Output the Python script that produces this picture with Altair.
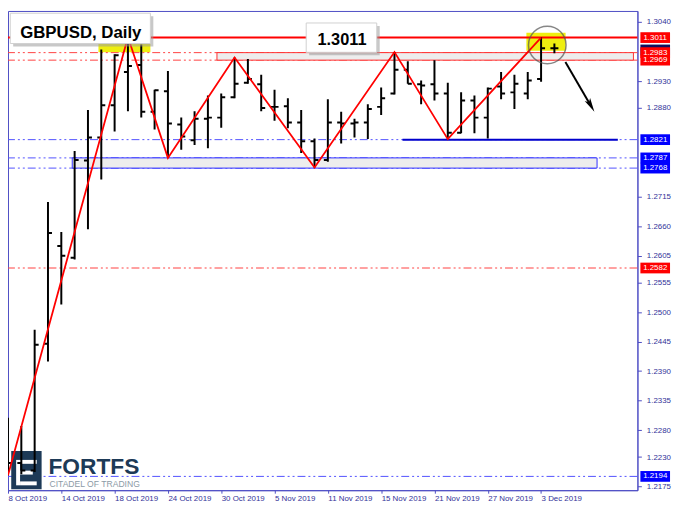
import altair as alt
import pandas as pd

# ---------------- data ----------------
dates = ["2019-10-08", "2019-10-09", "2019-10-10", "2019-10-11", "2019-10-14", "2019-10-15",
         "2019-10-16", "2019-10-17", "2019-10-18", "2019-10-21", "2019-10-22", "2019-10-23",
         "2019-10-24", "2019-10-25", "2019-10-28", "2019-10-29", "2019-10-30", "2019-10-31",
         "2019-11-01", "2019-11-04", "2019-11-05", "2019-11-06", "2019-11-07", "2019-11-08",
         "2019-11-11", "2019-11-12", "2019-11-13", "2019-11-14", "2019-11-15", "2019-11-18",
         "2019-11-19", "2019-11-20", "2019-11-21", "2019-11-22", "2019-11-25", "2019-11-26",
         "2019-11-27", "2019-11-28", "2019-11-29", "2019-12-02", "2019-12-03", "2019-12-04"]
opens = [1.2292, 1.2219, 1.2205, 1.2441, 1.2623, 1.2601, 1.2782, 1.2825, 1.2885, 1.2947,
         1.2960, 1.2873, 1.2911, 1.2849, 1.2820, 1.2860, 1.2862, 1.2900, 1.2927, 1.2924,
         1.2882, 1.2883, 1.2853, 1.2818, 1.2783, 1.2853, 1.2851, 1.2853, 1.2882, 1.2907,
         1.2951, 1.2924, 1.2924, 1.2907, 1.2834, 1.2894, 1.2862, 1.2920, 1.2909, 1.2907,
         1.2934, 1.2991]
highs = [1.2303, 1.2288, 1.2467, 1.2705, 1.2649, 1.2800, 1.2876, 1.2989, 1.2980, 1.3012,
         1.2998, 1.2914, 1.2949, 1.2862, 1.2874, 1.2903, 1.2907, 1.2974, 1.2971, 1.2942,
         1.2914, 1.2898, 1.2876, 1.2823, 1.2896, 1.2873, 1.2860, 1.2887, 1.2918, 1.2984,
         1.2967, 1.2931, 1.2969, 1.2927, 1.2909, 1.2903, 1.2918, 1.2947, 1.2942, 1.2947,
         1.3011, 1.3000]
lows = [1.2196, 1.2198, 1.2202, 1.2408, 1.2514, 1.2598, 1.2654, 1.2747, 1.2836, 1.2874,
        1.2862, 1.2840, 1.2787, 1.2802, 1.2811, 1.2805, 1.2843, 1.2898, 1.2925, 1.2874,
        1.2856, 1.2842, 1.2796, 1.2769, 1.2780, 1.2814, 1.2825, 1.2822, 1.2867, 1.2905,
        1.2925, 1.2887, 1.2894, 1.2822, 1.2833, 1.2833, 1.2823, 1.2896, 1.2878, 1.2896,
        1.2929, 1.2982]
closes = [1.2219, 1.2205, 1.2439, 1.2647, 1.2605, 1.2783, 1.2825, 1.2885, 1.2978, 1.2958,
          1.2873, 1.2913, 1.2851, 1.2827, 1.2860, 1.2862, 1.2900, 1.2925, 1.2934, 1.2880,
          1.2882, 1.2853, 1.2818, 1.2783, 1.2853, 1.2851, 1.2853, 1.2878, 1.2898, 1.2951,
          1.2925, 1.2922, 1.2907, 1.2834, 1.2894, 1.2862, 1.2916, 1.2907, 1.2925, 1.2931,
          1.2991, 1.2991]

zz_bars = [0, 9, 12, 17, 23, 29, 33, 40]
zz_prices = [1.2196, 1.3012, 1.2787, 1.2974, 1.2769, 1.2984, 1.2822, 1.3011]

y_ticks = [1.3040, 1.2930, 1.2880, 1.2715, 1.2660, 1.2605, 1.2555, 1.2500, 1.2445,
           1.2390, 1.2335, 1.2280, 1.2230, 1.2175]

red_solid_levels = [1.3011]
red_dash_levels = [1.2983, 1.2969, 1.2582]
blue_dash_levels = [1.2821, 1.2787, 1.2768, 1.2194]
label_prices = [1.3011, 1.2983, 1.2969, 1.2582, 1.2821, 1.2787, 1.2768, 1.2194]
label_kinds = ["red", "red", "red", "red", "blue", "blue", "blue", "blue"]
current_price = [1.2988]
resist_zone = [1.2969, 1.2983]
support_zone = [1.2768, 1.2787]
support_line = [1.2821]
title_text = "GBPUSD, Daily"
level_text = "1.3011"

# ---------------- layout ----------------
W, H = 637, 485
X_DOM = [0.0, 47.23]
Y_DOM = [1.216830, 1.306056]
resist_span = [15.68, 46.93]
support_span = [4.82, 44.2]
line_span = [29.6, 45.76]

AX = "#4c4cc4"
TXT = "#333399"
FONT = "Liberation Sans"


def mx(rx):
    return (rx - 2.7) * W / 642.3


def my(ry):
    return (ry - 2.7) * H / 490.3


df = pd.DataFrame({"i": list(range(len(dates))), "date": pd.to_datetime(dates),
                   "open": opens, "high": highs, "low": lows, "close": closes})
tick_idx = list(range(0, len(dates), 4))
tick_labels = [f"{d.day} {d.strftime('%b %Y')}" for d in df["date"].iloc[tick_idx]]
label_expr = "[" + ",".join(f"'{s}'" for s in tick_labels) + "][round(datum.value/4)]"

xs = alt.Scale(domain=X_DOM, nice=False, zero=False)
ys = alt.Scale(domain=Y_DOM, nice=False, zero=False)
x_axis = alt.Axis(values=tick_idx, labelExpr=label_expr, labelAlign="left", labelFlush=False,
                  labelOverlap=False, labelFont=FONT, labelFontSize=8, labelColor=TXT,
                  tickColor=AX, domainColor=AX, tickSize=3, labelPadding=1, grid=False, title=None)
y_axis = alt.Axis(orient="right", values=y_ticks, format=".4f", labelFlush=False,
                  labelOverlap=False, labelFont=FONT, labelFontSize=8, labelColor=TXT,
                  tickColor=AX, domainColor=AX, tickSize=4, labelPadding=5, grid=False, title=None)


def X(f):
    return alt.X(f, type="quantitative", scale=xs, axis=x_axis)


def Y(f):
    return alt.Y(f, type="quantitative", scale=ys, axis=y_axis)


one = pd.DataFrame({"k": [0]})
layers = []


def pxrect(x1, x2, y1, y2, **kw):
    return alt.Chart(one).mark_rect(**kw).encode(
        x=alt.value(mx(x1)), x2=alt.value(mx(x2)), y=alt.value(my(y1)), y2=alt.value(my(y2)))


# yellow highlights
layers.append(pxrect(95, 148, 26, 45, color="#eeee10"))
layers.append(pxrect(531.7, 571.7, 25, 43.3, color="#eeee10"))

# dash-dot levels
DASH = [8, 3, 2, 3, 2, 3]
layers.append(alt.Chart(pd.DataFrame({"p": red_dash_levels})).mark_rule(
    color="#ff4040", strokeWidth=1, strokeDash=DASH).encode(y=Y("p")))
layers.append(alt.Chart(pd.DataFrame({"p": blue_dash_levels})).mark_rule(
    color="#5050ff", strokeWidth=1, strokeDash=DASH).encode(y=Y("p")))

# zones
rz = pd.DataFrame({"x1": [resist_span[0]], "x2": [resist_span[1]],
                   "p1": [resist_zone[0]], "p2": [resist_zone[1]]})
sz = pd.DataFrame({"x1": [support_span[0]], "x2": [support_span[1]],
                   "p1": [support_zone[0]], "p2": [support_zone[1]]})
layers.append(alt.Chart(rz).mark_rect(fill="#ededed", stroke="#ff3030", strokeWidth=1).encode(
    x=X("x1"), x2="x2", y=Y("p1"), y2="p2"))
layers.append(alt.Chart(sz).mark_rect(fill="#ededed", stroke="#3030ff", strokeWidth=1).encode(
    x=X("x1"), x2="x2", y=Y("p1"), y2="p2"))

# solid levels
layers.append(alt.Chart(pd.DataFrame({"p": red_solid_levels})).mark_rule(
    color="#ff0000", strokeWidth=2).encode(y=Y("p")))
sl = pd.DataFrame({"x1": [line_span[0]], "x2": [line_span[1]], "p": support_line})
layers.append(alt.Chart(sl).mark_rule(color="#0000cc", strokeWidth=2).encode(
    x=X("x1"), x2="x2", y=Y("p")))

# logo
NAVY = "#1d3a57"
layers.append(pxrect(6, 37, 453, 492, color=NAVY))
layers.append(pxrect(11, 15, 462, 488, color="white"))
layers.append(pxrect(15, 32, 462, 466, color="white"))
layers.append(pxrect(15, 28, 473, 477, color="white"))
layers.append(pxrect(15, 32, 484, 488, color="white"))
layers.append(alt.Chart(one).mark_text(text="FORTFS", font=FONT, fontWeight="bold", fontSize=23,
                                       align="left", baseline="alphabetic", color=NAVY).encode(
    x=alt.value(mx(44)), y=alt.value(my(476.5))))
layers.append(alt.Chart(one).mark_text(text="CITADEL OF TRADING", font=FONT, fontSize=8.7,
                                       align="left", baseline="alphabetic", color="#8c9aa6").encode(
    x=alt.value(mx(45)), y=alt.value(my(490))))

# OHLC bars
bars = alt.Chart(df)
layers.append(bars.mark_rule(color="black", strokeWidth=2, clip=True).encode(
    x=X("i"), y=Y("low"), y2="high"))
layers.append(bars.transform_calculate(xl="datum.i - 0.3").mark_rule(
    color="black", strokeWidth=2, clip=True).encode(x=X("xl"), x2="i", y=Y("open")))
layers.append(bars.transform_calculate(xr="datum.i + 0.3").mark_rule(
    color="black", strokeWidth=2, clip=True).encode(x=X("i"), x2="xr", y=Y("close")))

# zigzag
zz = pd.DataFrame({"i": zz_bars, "p": zz_prices})
layers.append(alt.Chart(zz).mark_line(color="#ff0000", strokeWidth=1.8).encode(x=X("i"), y=Y("p")))

# circle and arrow
layers.append(alt.Chart(one).mark_point(shape="circle", size=1444, filled=False,
                                        color="#555555", strokeWidth=1.5).encode(
    x=alt.value(mx(553)), y=alt.value(my(37.5))))
layers.append(alt.Chart(one).mark_rule(color="black", strokeWidth=2).encode(
    x=alt.value(mx(571.5)), x2=alt.value(mx(597)), y=alt.value(my(55)), y2=alt.value(my(99))))
layers.append(alt.Chart(one).mark_point(shape="M0,1L-0.45,-1L0,-0.55L0.45,-1Z", size=200,
                                        filled=True, color="black", opacity=1, angle=330).encode(
    x=alt.value(mx(597.5)), y=alt.value(my(99.5))))

# title box and level box
layers.append(pxrect(8, 151, 8, 39, color="#9a9a9a", opacity=0.55))
layers.append(pxrect(5, 148, 5, 36, fill="white", stroke="#d0d0d0", strokeWidth=1))
layers.append(alt.Chart(one).mark_text(text=title_text, font=FONT, fontWeight="bold", fontSize=17,
                                       align="center", baseline="alphabetic", color="black").encode(
    x=alt.value(mx(77)), y=alt.value(my(30))))
layers.append(pxrect(310, 382, 18, 48, color="#9a9a9a", opacity=0.55))
layers.append(pxrect(307, 379, 15, 45, fill="white", stroke="#d0d0d0", strokeWidth=1))
layers.append(alt.Chart(one).mark_text(text=level_text, font=FONT, fontWeight="bold", fontSize=16.5,
                                       align="center", baseline="alphabetic", color="black").encode(
    x=alt.value(mx(343.5)), y=alt.value(my(37.5))))

# price labels on the right axis
BOX_X1, BOX_X2, BOX_XC = 640, 670, 655
cur = pd.DataFrame({"p": current_price})
layers.append(alt.Chart(cur).transform_calculate(lo="datum.p - 0.0010", hi="datum.p + 0.0010")
              .mark_rect(color="#101060").encode(
    x=alt.value(BOX_X1), x2=alt.value(BOX_X2), y=Y("lo"), y2="hi"))
lab = pd.DataFrame({"p": label_prices, "kind": label_kinds})
lab["txt"] = [f"{v:.4f}" for v in label_prices]
layers.append(alt.Chart(lab).transform_calculate(lo="datum.p - 0.0010", hi="datum.p + 0.0010")
              .mark_rect().encode(
    x=alt.value(BOX_X1), x2=alt.value(BOX_X2), y=Y("lo"), y2="hi",
    color=alt.Color("kind:N", scale=alt.Scale(domain=["red", "blue"], range=["#ff0000", "#0000ff"]),
                    legend=None)))
layers.append(alt.Chart(lab).mark_text(font=FONT, fontSize=8, color="white", align="center",
                                       baseline="middle").encode(
    x=alt.value(BOX_XC), y=Y("p"), text="txt:N"))

chart = alt.layer(*layers).properties(
    width=W, height=H,
    autosize=alt.AutoSizeParams(type="none"),
    padding={"left": 0, "top": 0, "right": 36, "bottom": 15},
    background="white",
).configure_view(stroke=AX, strokeWidth=1)

chart.save("out.html", embed_options={"renderer": "svg", "actions": False})
